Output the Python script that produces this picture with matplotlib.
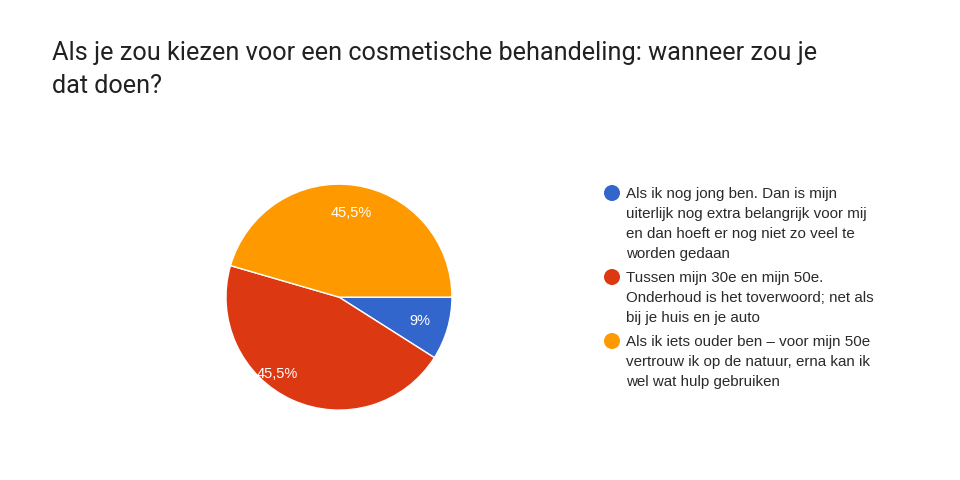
import matplotlib
matplotlib.use('Agg')
import matplotlib.pyplot as plt
from matplotlib.patches import Circle

title = 'Als je zou kiezen voor een cosmetische behandeling: wanneer zou je\ndat doen?'
labels = [
    'Als ik nog jong ben. Dan is mijn\nuiterlijk nog extra belangrijk voor mij\nen dan hoeft er nog niet zo veel te\nworden gedaan',
    'Tussen mijn 30e en mijn 50e.\nOnderhoud is het toverwoord; net als\nbij je huis en je auto',
    'Als ik iets ouder ben \u2013 voor mijn 50e\nvertrouw ik op de natuur, erna kan ik\nwel wat hulp gebruiken',
]
values = [9, 45.5, 45.5]
colors = ['#3366cc', '#dc3912', '#ff9900']

fig = plt.figure(figsize=(9.6, 4.8), dpi=100)
fig.patch.set_facecolor('white')

# overlay axes in pixel units for title and legend layout
lg = fig.add_axes([0, 0, 1, 1])
lg.set_xlim(0, 960)
lg.set_ylim(480, 0)
lg.axis('off')

base = 60
for line in title.split('\n'):
    lg.text(52, base, line, fontsize=18.2, family='Roboto', color='#212121',
            va='baseline', ha='left')
    base += 33

# pie
ax = fig.add_axes([0.2354, 0.1456, 0.2354, 0.4708])
wedges, texts, autotexts = ax.pie(
    values, colors=colors, startangle=0, counterclock=False,
    autopct=lambda p: ('%.1f%%' % p).replace('.', ',').replace(',0%', '%'),
    pctdistance=0.75, radius=1.0,
    wedgeprops=dict(edgecolor='white', linewidth=1.0),
    textprops=dict(color='white', fontsize=10.5, family='Liberation Sans'))
# Google places the big red label a bit further out and left
x, y = autotexts[1].get_position()
autotexts[1].set_position((x - 0.24, y + 0.0))
ax.set_aspect('equal')
ax.set_xlim(-1.0, 1.0)
ax.set_ylim(-1.0, 1.0)

# legend
base = 198
for lab, col in zip(labels, colors):
    lg.add_patch(Circle((612, base - 5), 7.3, color=col))
    for line in lab.split('\n'):
        lg.text(626, base, line, fontsize=10.9, family='Liberation Sans',
                color='#2a2a2a', va='baseline', ha='left')
        base += 20
    base += 4

fig.savefig('out.png', dpi=100)
